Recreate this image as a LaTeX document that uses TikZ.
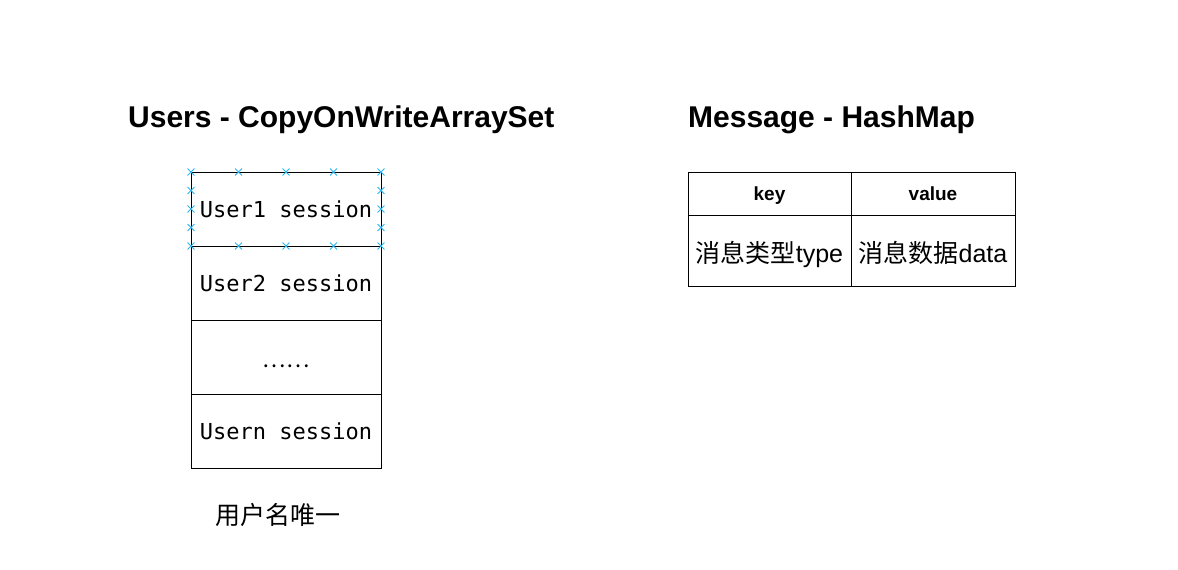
\documentclass[tikz,border=0pt]{standalone}
\usepackage{fontspec}
\setmainfont{Liberation Sans}
\setmonofont{DejaVu Sans Mono}
\newfontfamily\cjk{Noto Sans CJK SC}
\usetikzlibrary{shapes.misc}

\tikzset{
	cell/.style={rectangle,draw=black,line width=1pt,inner sep=0pt,minimum width=190pt,minimum height=74pt,font=\ttfamily\fontsize{22}{26}\selectfont},
	tcell/.style={rectangle,draw=black,line width=1pt,inner sep=0pt,minimum height=71pt,text height=30pt,text depth=6pt,font=\fontsize{25}{29}\selectfont},
	thead/.style={tcell,minimum height=43pt,text height=17pt,text depth=4pt,font=\bfseries\fontsize{19}{23}\selectfont},
	title/.style={anchor=base west,inner sep=0pt,font=\bfseries\fontsize{30}{35}\selectfont},
	handle/.style={cross out,draw={rgb,255:red,41;green,182;blue,242},line width=0.9pt,inner sep=0pt,minimum size=6pt}
}

\begin{document}
\begin{tikzpicture}[x=1pt,y=-1pt]
	\useasboundingbox (0,0) rectangle (1178,570);

	\node[title] (t1) at (128, 127) {Users - CopyOnWriteArraySet};
	\node[title] (t2) at (688, 127) {Message - HashMap};

	\node[cell] (u1) at (286, 209) {User1 session};
	\node[cell] (u2) at (286, 283) {User2 session};
	\node[cell] (u3) at (286, 357) {\smash{\raisebox{-10pt}{\cjk\fontsize{22}{26}\selectfont ……}}};
	\node[cell] (u4) at (286, 431) {Usern session};

	\node[inner sep=0pt,font=\cjk\fontsize{25}{29}\selectfont] (note) at (278, 515) {用户名唯一};

	\node[thead,minimum width=163pt] (k) at (769.5, 193.5) {key};
	\node[thead,minimum width=164pt] (v) at (933, 193.5) {value};
	\node[tcell,minimum width=163pt] (k1) at (769.5, 250.5) {{\cjk 消息类型}type};
	\node[tcell,minimum width=164pt] (v1) at (933, 250.5) {{\cjk 消息数据}data};

	% selection handles on the first session box
	\foreach \i in {0,...,4} {
		\node[handle] (hn\i) at (191+47.5*\i, 172) {};
		\node[handle] (hs\i) at (191+47.5*\i, 246) {};
	}
	\foreach \i in {1,...,3} {
		\node[handle] (hw\i) at (191, 172+18.5*\i) {};
		\node[handle] (he\i) at (381, 172+18.5*\i) {};
	}
\end{tikzpicture}
\end{document}
